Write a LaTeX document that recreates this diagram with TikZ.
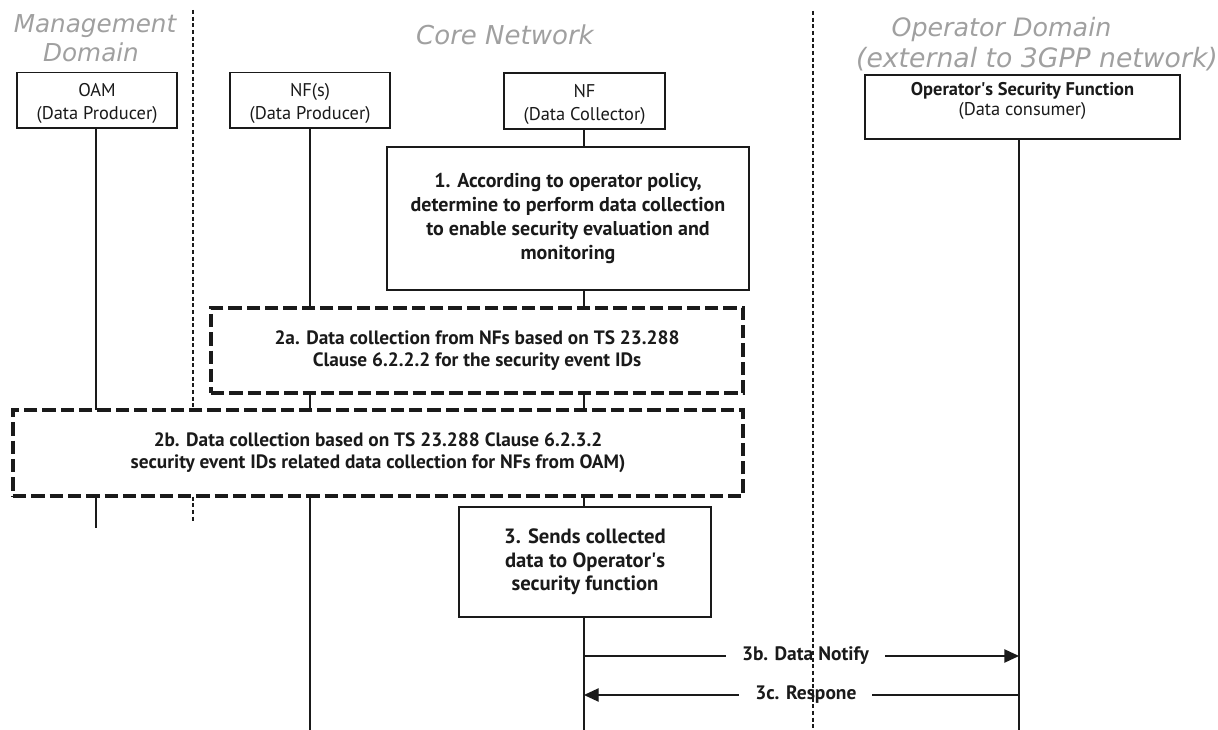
\documentclass[tikz,border=0pt]{standalone}
\usepackage{fontspec}
\setmainfont{PT Sans}
\newfontfamily\domainfont{DejaVu Sans}
\usetikzlibrary{arrows.meta}
\definecolor{domaingray}{HTML}{A0A0A0}
\definecolor{ink}{HTML}{1A1A1A}
\begin{document}
\begin{tikzpicture}[x=0.75pt,y=-0.75pt,
  party/.style={draw=ink, fill=white, line width=1pt, inner sep=0pt},
  partytext/.style={inner sep=0pt, align=center, text=ink,
    font=\fontsize{13.8}{17.25}\selectfont},
  optext/.style={partytext, font=\fontsize{13.8}{15}\selectfont},
  stepbox/.style={draw=ink, fill=white, line width=1pt, inner sep=0pt, align=center,
    text=ink, font=\fontsize{15}{17.8}\selectfont\bfseries},
  dashbox/.style={stepbox, line width=2.3pt, dash pattern=on 10pt off 3.75pt,
    font=\fontsize{14.5}{16.5}\selectfont\bfseries},
  domaintitle/.style={text=domaingray, anchor=base, inner sep=0pt},
  lifeline/.style={draw=ink, line width=1pt},
  divider/.style={draw=ink, line width=1.1pt, dash pattern=on 3pt off 2pt},
  msg/.style={draw=ink, line width=1pt, -{Triangle[length=11pt,width=10pt]}},
  msglabel/.style={fill=white, inner xsep=12pt, inner ysep=2pt, text=ink,
    font=\fontsize{14.6}{17.8}\selectfont\bfseries}
]
\useasboundingbox (0,0) rectangle (1218,730);

% domain titles
\node[domaintitle, font=\domainfont\itshape\fontsize{18.5}{21}\selectfont] (tmgmt1) at (95,33) {Management};
\node[domaintitle, font=\domainfont\itshape\fontsize{18.5}{21}\selectfont] (tmgmt2) at (91,62) {Domain};
\node[domaintitle, font=\domainfont\itshape\fontsize{19.5}{21}\selectfont] (tcore) at (505,45) {Core Network};
\node[domaintitle, font=\domainfont\itshape\fontsize{19}{21}\selectfont] (top1) at (1001.5,37) {Operator Domain};
\node[domaintitle, font=\domainfont\itshape\fontsize{20}{21}\selectfont] (top2) at (1037,68) {(external to 3GPP network)};

% end points of lifelines and dividers
\coordinate (oamEnd) at (96,528);
\coordinate (nfsEnd) at (310,730);
\coordinate (nfEnd) at (584,730);
\coordinate (opEnd) at (1019,730);
\coordinate (divA1) at (193,10);
\coordinate (divA2) at (193,523);
\coordinate (divB1) at (813,11);
\coordinate (divB2) at (813,730);

% participants
\node[party, minimum width=120pt, minimum height=41.5pt] (oam) at (97,100.5) {};
\node[partytext] (oamText) at (97,103.5) {OAM\\(Data Producer)};
\node[party, minimum width=120pt, minimum height=41.5pt] (nfs) at (310,100.5) {};
\node[partytext] (nfsText) at (310,103.5) {NF(s)\\(Data Producer)};
\node[party, minimum width=120.75pt, minimum height=42pt] (nf) at (584.5,101) {};
\node[partytext] (nfText) at (584.5,104) {NF\\(Data Collector)};
\node[party, minimum width=236.25pt, minimum height=48pt] (op) at (1022.5,107) {};
\node[optext] (opText) at (1022.5,100.5)
  {\bfseries Operator\textquotesingle s Security Function\\(Data consumer)};

% lifelines and the left divider, drawn beneath the step boxes
\draw[lifeline] (oam.south -| oamEnd) -- (oamEnd);
\draw[lifeline] (nfs.south -| nfsEnd) -- (nfsEnd);
\draw[lifeline] (nf.south -| nfEnd) -- (nfEnd);
\draw[lifeline] (op.south -| opEnd) -- (opEnd);
\draw[divider] (divA1) -- (divA2);

% steps
\node[stepbox, minimum width=271.5pt, minimum height=107.25pt] (s1) at (568,218.5)
  {1. According to operator policy,\\determine to perform data collection\\to enable security evaluation and\\monitoring};
\node[dashbox, minimum width=399pt, minimum height=63.75pt] (s2a) at (477,350.5)
  {2a. Data collection from NFs based on TS 23.288\\Clause 6.2.2.2 for the security event IDs};
\node[dashbox, minimum width=547.5pt, minimum height=64.5pt] (s2b) at (378,453)
  {2b. Data collection based on TS 23.288 Clause 6.2.3.2\\security event IDs related data collection for NFs from OAM)};
\node[stepbox, minimum width=189pt, minimum height=82.5pt,
  font=\fontsize{15.5}{17.6}\selectfont\bfseries] (s3) at (585,562)
  {3. Sends collected\\data to Operator\textquotesingle s\\security function};

% messages
\coordinate (nf3b) at (584,656);
\coordinate (op3b) at (1019,656);
\coordinate (nf3c) at (584,695);
\coordinate (op3c) at (1019,695);
\draw[msg] (nf3b) -- node[msglabel, pos=0.509] (l3b) {3b. Data Notify} (op3b);
\draw[msg] (op3c) -- node[msglabel, pos=0.49] (l3c) {3c. Respone} (nf3c);

% right divider
\draw[divider] (divB1) -- (divB2);
\end{tikzpicture}
\end{document}
